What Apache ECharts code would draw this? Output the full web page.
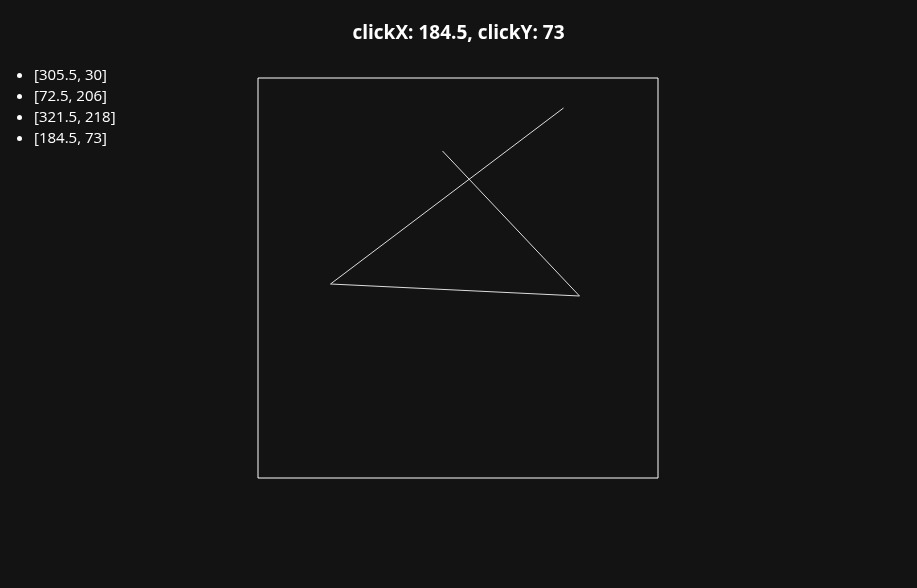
<!DOCTYPE html>
<html lang="en">
<head>
    <meta charset="utf-8">
    <title>clicks</title>
    <script src="https://cdn.jsdelivr.net/npm/echarts@6/dist/echarts.min.js"></script>
    <style>
        html, body { margin: 0; padding: 0; background: #131313; color: #fff; font-family: "Open Sans", "Noto Sans", sans-serif; }
        #list { position: absolute; left: 0; top: 64px; margin: 0; padding-left: 34px; font-size: 15px; line-height: 21px; }
        #main { position: absolute; left: 0; top: 0; width: 917px; height: 588px; }
    </style>
</head>
<body>
    <div id="main"></div>
    <ul id="list"></ul>

    <script type="text/javascript">
    // clicked points, in pixels inside the 400x400 box
    var clicksX = [305.5, 72.5, 321.5, 184.5];
    var clicksY = [30, 206, 218, 73];

    var points = clicksX.map(function (x, i) { return [x, clicksY[i]]; });
    var last = points[points.length - 1];

    var list = document.getElementById('list');
    points.forEach(function (p) {
        var li = document.createElement('li');
        li.textContent = '[' + p[0] + ', ' + p[1] + ']';
        list.appendChild(li);
    });

    var myChart = echarts.init(document.getElementById('main'));
    myChart.setOption({
        backgroundColor: '#131313',
        title: {
            text: 'clickX: ' + last[0] + ', clickY: ' + last[1],
            left: 'center',
            top: 19,
            textStyle: { color: '#fff', fontSize: 19, fontWeight: 'bold', fontFamily: 'Open Sans' }
        },
        grid: {
            left: 258, top: 78, width: 400, height: 400,
            show: true, borderColor: '#fff', borderWidth: 1, backgroundColor: 'transparent'
        },
        xAxis: { type: 'value', min: 0, max: 400, show: false },
        yAxis: { type: 'value', min: 0, max: 400, inverse: true, show: false },
        series: [{
            type: 'line',
            data: points,
            symbol: 'none',
            animation: false,
            lineStyle: { color: '#ddd', width: 1 }
        }]
    });
    </script>
</body>
</html>
